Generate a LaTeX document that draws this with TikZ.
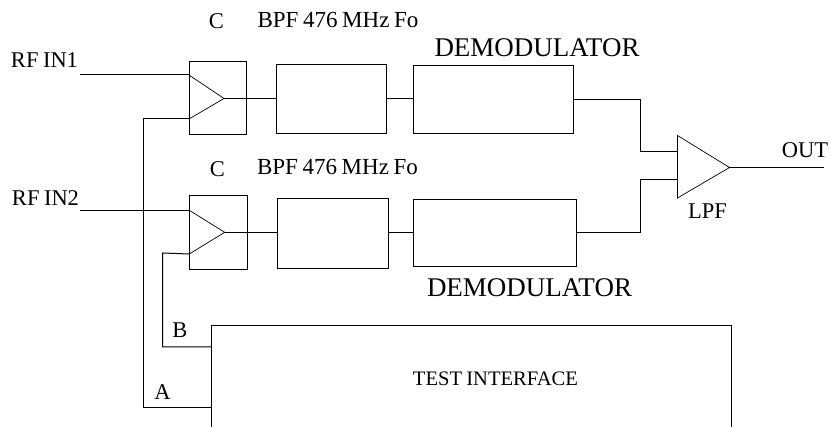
\documentclass[tikz,border=0pt]{standalone}
\usepackage{fontspec}
\setmainfont[WordSpace=0.8]{Liberation Serif}
\tikzset{
  blockbox/.style={draw, line width=1pt, inner sep=0pt, outer sep=0pt},
  lbl/.style={inner sep=0pt, font=\fontsize{22.5}{22.5}\selectfont},
  widelbl/.style={inner sep=0pt, font=\fontsize{23}{23}\selectfont},
  smalllbl/.style={inner sep=0pt, font=\fontsize{20.6}{21}\selectfont},
  biglbl/.style={inner sep=0pt, font=\fontsize{27}{27}\selectfont},
  wire/.style={line width=1pt},
  amp/.style={line width=0.7pt, line join=miter}
}
\begin{document}
\begin{tikzpicture}[x=1pt,y=-1pt]
\useasboundingbox (0,0) rectangle (830,427);
% upper channel
\node[blockbox, minimum width=57.5pt, minimum height=73.5pt] (cella) at (217.75,98.25){};
\node[blockbox, minimum width=110.4pt, minimum height=69pt] (bpfa) at (331.5,98.8){};
\node[blockbox, minimum width=160pt, minimum height=68pt] (dema) at (493.3,99.3){};
\coordinate (ampai) at (189,75);
\coordinate (ampaj) at (189,119);
\coordinate (ampao) at (224,98.5);
% lower channel
\node[blockbox, minimum width=58pt, minimum height=74.7pt] (cellb) at (218.3,232.6){};
\node[blockbox, minimum width=111pt, minimum height=70pt] (bpfb) at (332.8,233.3){};
\node[blockbox, minimum width=163.4pt, minimum height=66.6pt] (demb) at (495,233){};
\coordinate (ampbi) at (189.3,210.3);
\coordinate (ampbj) at (189.3,254);
\coordinate (ampbo) at (224.7,232.3);
% output amplifier
\coordinate (lpfa) at (677.5,135.5);
\coordinate (lpfb) at (677.5,198);
\coordinate (lpfo) at (729.5,167.5);
\coordinate (lpfi) at (677.5,151.5);
\coordinate (lpfj) at (677.5,179.5);
\draw[amp] (ampai) -- (ampao) -- (ampaj);
\draw[amp] (ampbi) -- (ampbo) -- (ampbj);
\draw[amp] (lpfa) -- (lpfo) -- (lpfb) -- cycle;
% test box runs off the page
\coordinate (testa) at (211,427);
\coordinate (testb) at (211,326);
\coordinate (testc) at (731.7,326);
\coordinate (testd) at (731.7,427);
\coordinate (testp) at (211,347);
\coordinate (testq) at (211,407.3);
\draw[wire] (testa) -- (testb) -- (testc) -- (testd);
% free ends
\coordinate (ina) at (80,75);
\coordinate (inb) at (80,210.3);
\coordinate (outa) at (824,167.5);
% wires
\draw[wire] (ina) -- (ampai);
\draw[wire] (inb) -- (ampbi);
\draw[wire] (ampao) -- (bpfa.west |- ampao);
\draw[wire] (ampbo) -- (bpfb.west |- ampbo);
\draw[wire] (bpfa.east |- ampao) -- (dema.west |- ampao);
\draw[wire] (bpfb.east |- ampbo) -- (demb.west |- ampbo);
\draw[wire] (dema.east) -- (640.5,99.3) -- (640.5,151.5) -- (lpfi);
\draw[wire] (demb.east) -- (640.5,233) -- (640.5,179.5) -- (lpfj);
\draw[wire] (lpfo) -- (outa);
\draw[wire] (ampaj) -- (143.4,119) -- (143.4,407.3) -- (testq);
\draw[wire] (ampbj) -- (162.7,253) -- (162.7,347) -- (testp);
% labels
\node[lbl] (rfa) at (44.5,60){RF IN1};
\node[lbl] (rfb) at (45.5,198){RF IN2};
\node[lbl] (ca) at (216.5,21){C};
\node[lbl] (cb) at (217.5,169){C};
\node[widelbl] (fa) at (338,20){BPF 476 MHz Fo};
\node[widelbl] (fb) at (337.5,167.5){BPF 476 MHz Fo};
\node[biglbl] (da) at (537,47.5){DEMODULATOR};
\node[biglbl] (db) at (529.5,287.5){DEMODULATOR};
\node[lbl] (out) at (805,150.5){OUT};
\node[lbl] (lpf) at (707.5,211.5){LPF};
\node[lbl] (pb) at (180,330){B};
\node[lbl] (pa) at (162.5,392.5){A};
\node[smalllbl] (ti) at (495.5,379){TEST INTERFACE};
\end{tikzpicture}
\end{document}
